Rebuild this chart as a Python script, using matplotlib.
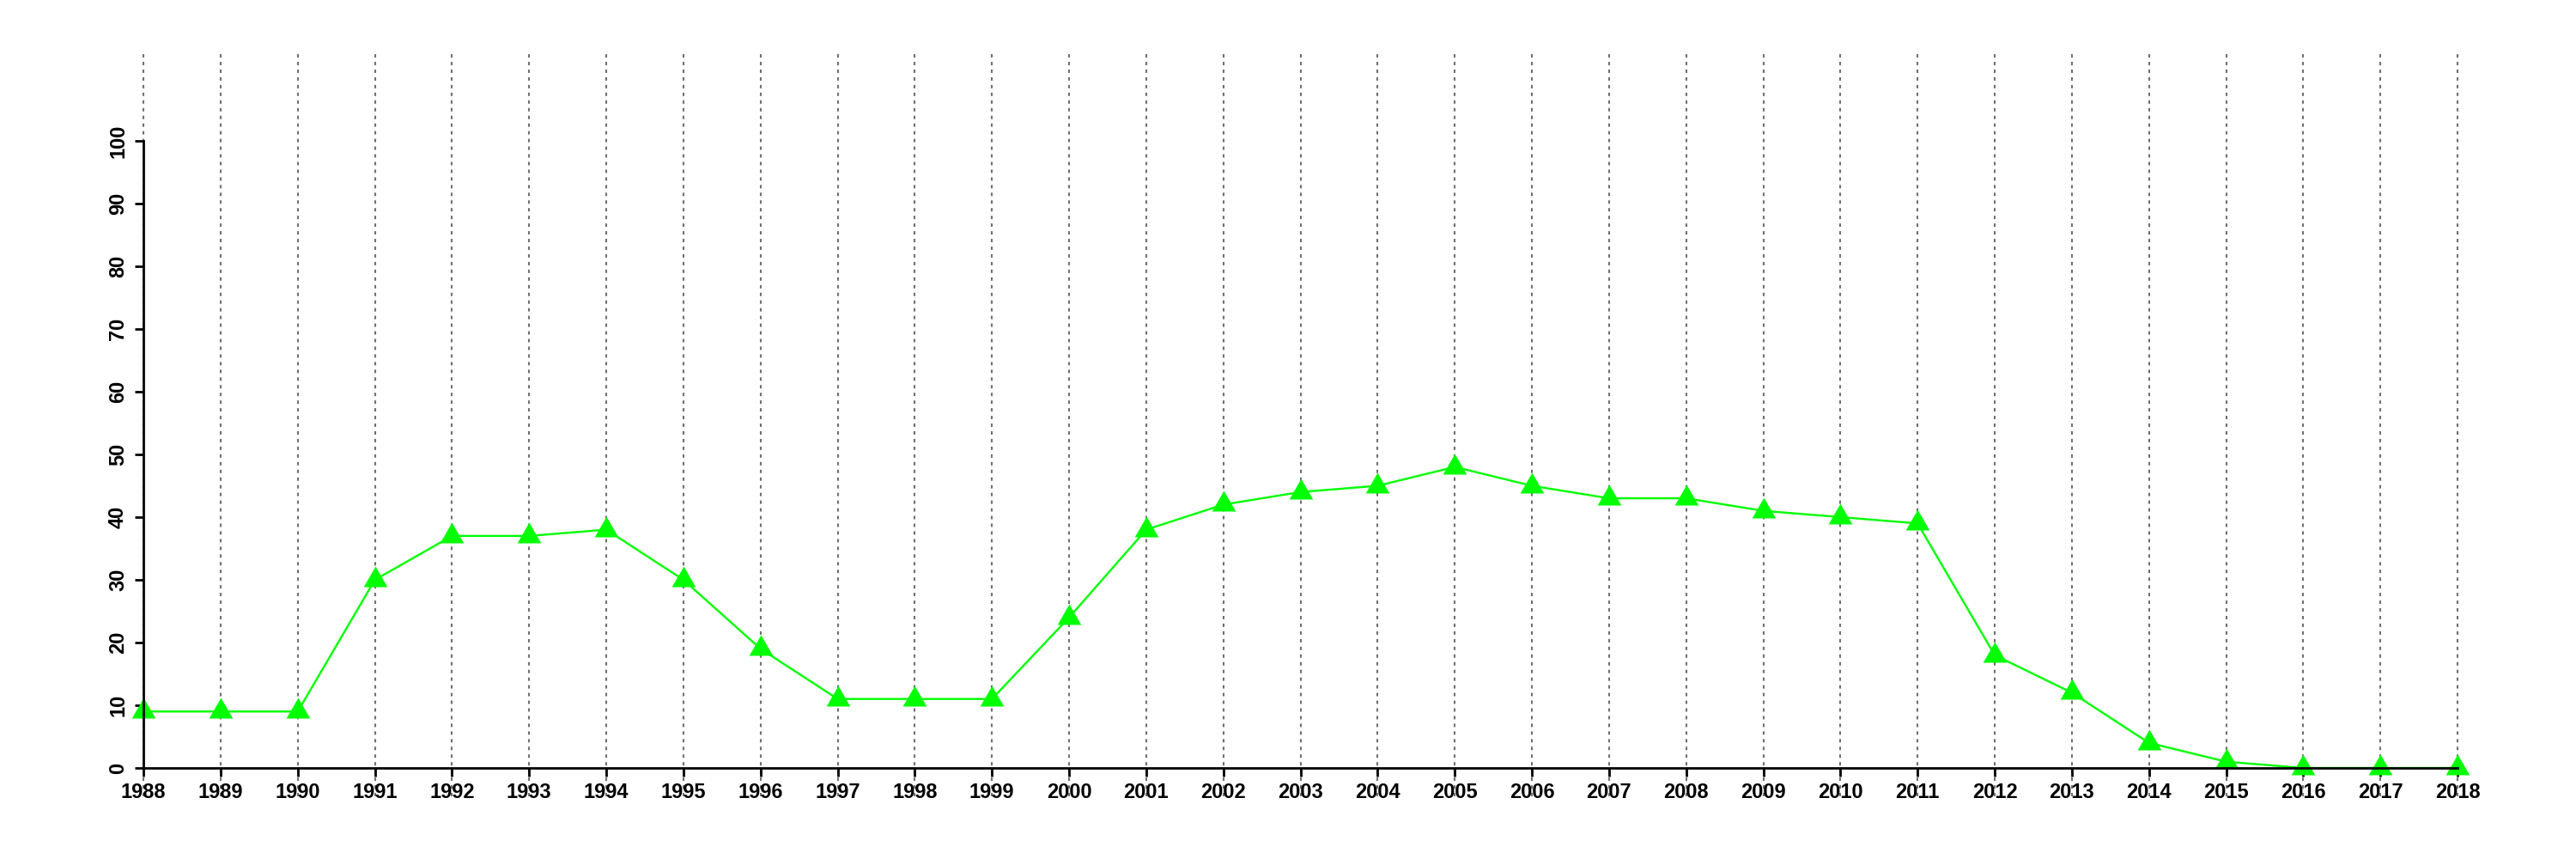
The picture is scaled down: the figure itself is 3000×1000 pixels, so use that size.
import matplotlib
matplotlib.use('Agg')
import matplotlib.pyplot as plt

years = list(range(1988, 2019))
values = [9, 9, 9, 30, 37, 37, 38, 30, 19, 11, 11, 11, 24, 38, 42, 44,
          45, 48, 45, 43, 43, 41, 40, 39, 18, 12, 4, 1, 0, 0, 0]
yticks = list(range(0, 101, 10))

plt.rcParams['font.family'] = ['Liberation Sans', 'DejaVu Sans']
plt.rcParams['font.weight'] = 'bold'

fig = plt.figure(figsize=(30, 10), dpi=100)
ax = fig.add_axes([0.0557, 0.106, 0.8983, 0.730])
ax.set_xlim(1988, 2018)
ax.set_ylim(0, 100)

# dotted vertical guides, reaching past the plot box
for yr in years:
    ax.plot([yr, yr], [-4.5, 114.3], color='#707070', lw=1.5,
            dashes=(1.9, 2.4), clip_on=False, zorder=1)

# equilateral triangle like R's pch 17
tri = [(0, 0.577), (-0.5, -0.289), (0.5, -0.289), (0, 0.577)]
ax.plot(years, values, color='#00ff00', lw=1.7, marker=tri,
        markersize=23, markeredgewidth=0, clip_on=False, zorder=2)

for s in ['top', 'right']:
    ax.spines[s].set_visible(False)
ax.spines['left'].set_linewidth(2)
ax.spines['bottom'].set_linewidth(2)
ax.spines['left'].set_bounds(0, 100)
ax.spines['bottom'].set_bounds(1988, 2018)

ax.set_xticks(years)
ax.set_xticklabels([str(y) for y in years])
ax.set_yticks(yticks)
ax.set_yticklabels([str(v) for v in yticks], rotation=90, va='center')
ax.tick_params(axis='both', direction='out', length=7, width=2,
               labelsize=17, pad=5)
ax.tick_params(axis='y', pad=6)

fig.savefig('out.png', dpi=100)
